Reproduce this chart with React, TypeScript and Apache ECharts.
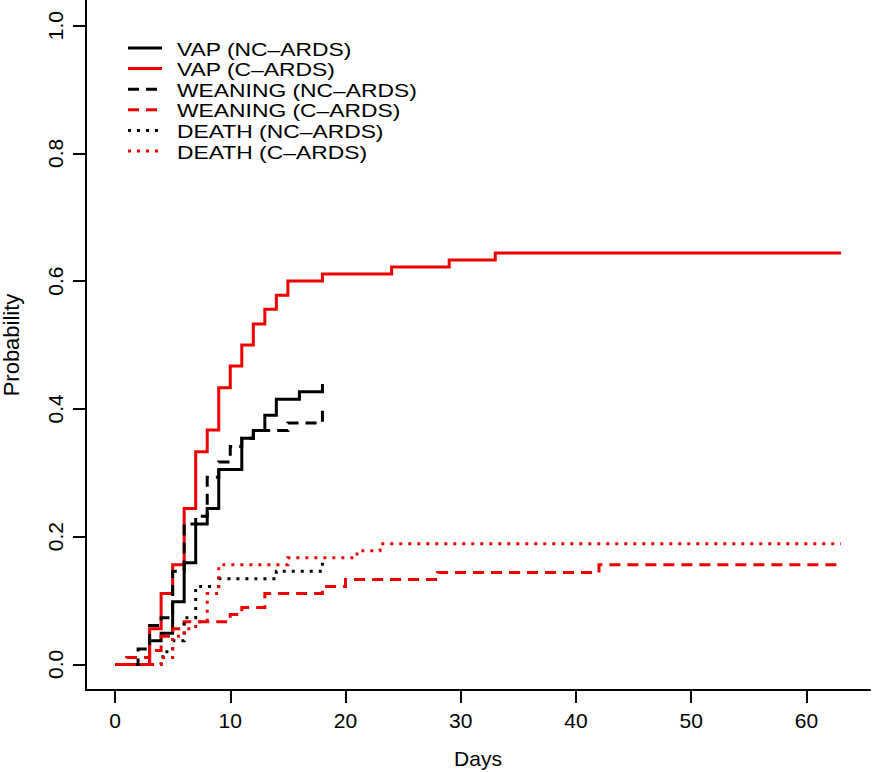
import React, { useEffect, useRef } from "react";
import * as echarts from "echarts";

// ---- data (days, cumulative probability) ----
const vapNcDays = [0, 3, 4, 5, 6, 7, 8, 9, 11, 12, 13, 14, 16, 18, 18];
const vapNcProb = [0, 0.037, 0.049, 0.098, 0.159, 0.22, 0.244, 0.305, 0.354, 0.366, 0.39, 0.415, 0.427, 0.427, 0.439];

const vapCDays = [0, 3, 4, 5, 6, 7, 8, 9, 10, 11, 12, 13, 14, 15, 18, 24, 29, 33, 63];
const vapCProb = [0, 0.056, 0.111, 0.156, 0.244, 0.333, 0.367, 0.433, 0.467, 0.5, 0.533, 0.556, 0.578, 0.6, 0.611, 0.622, 0.633, 0.644, 0.644];

const weanNcDays = [0, 2, 3, 4, 5, 6, 7, 8, 9, 10, 11, 12, 15, 18, 18];
const weanNcProb = [0, 0.024, 0.061, 0.073, 0.146, 0.22, 0.232, 0.293, 0.317, 0.341, 0.354, 0.366, 0.378, 0.378, 0.402];

const weanCDays = [0, 1, 3, 4, 5, 6, 10, 11, 13, 18, 20, 28, 42, 63];
const weanCProb = [0, 0.011, 0.022, 0.044, 0.056, 0.067, 0.078, 0.089, 0.111, 0.122, 0.133, 0.144, 0.156, 0.156];

const deathNcDays = [0, 4, 4.5, 5, 6, 7, 9, 14, 18, 18];
const deathNcProb = [0, 0.012, 0.024, 0.037, 0.073, 0.122, 0.134, 0.146, 0.146, 0.159];

const deathCDays = [0, 4, 5, 6, 7, 8, 9, 15, 21, 23, 63];
const deathCProb = [0, 0.011, 0.044, 0.056, 0.067, 0.111, 0.156, 0.167, 0.178, 0.189, 0.189];

const xTicks = [0, 10, 20, 30, 40, 50, 60];
const yTicks = [0, 0.2, 0.4, 0.6, 0.8, 1.0];

const legendNames = [
  "VAP (NC\u2013ARDS)",
  "VAP (C\u2013ARDS)",
  "WEANING (NC\u2013ARDS)",
  "WEANING (C\u2013ARDS)",
  "DEATH (NC\u2013ARDS)",
  "DEATH (C\u2013ARDS)",
];

const RED = "#ee0000";
const BLACK = "#000000";
const DASH = [11, 7];
const DOT = [3, 6];
const FONT = "'Liberation Sans', Arial, Helvetica, sans-serif";

const zip = (xs: number[], ys: number[]) => xs.map((x, i) => [x, ys[i]]);

const seriesDefs = [
  { name: legendNames[0], days: vapNcDays, prob: vapNcProb, color: BLACK, dash: null as number[] | null },
  { name: legendNames[1], days: vapCDays, prob: vapCProb, color: RED, dash: null },
  { name: legendNames[2], days: weanNcDays, prob: weanNcProb, color: BLACK, dash: DASH },
  { name: legendNames[3], days: weanCDays, prob: weanCProb, color: RED, dash: DASH },
  { name: legendNames[4], days: deathNcDays, prob: deathNcProb, color: BLACK, dash: DOT },
  { name: legendNames[5], days: deathCDays, prob: deathCProb, color: RED, dash: DOT },
];

export default function App() {
  const ref = useRef<HTMLDivElement>(null);
  useEffect(() => {
    if (!ref.current) return;
    const chart = echarts.init(ref.current, null, { renderer: "svg" });
    const legendGraphics: any[] = [];
    seriesDefs.forEach((s, i) => {
      const y = 48 + i * 20.6;
      legendGraphics.push({
        type: "line",
        shape: { x1: 128, y1: y, x2: 162, y2: y },
        style: { stroke: s.color, lineWidth: 3, lineDash: s.dash || undefined, lineCap: "butt" },
      });
      legendGraphics.push({
        type: "text",
        x: 177,
        y: y + 1,
        scaleX: 1.27,
        style: { text: s.name, fill: "#000", font: `18px ${FONT}`, verticalAlign: "middle" },
      });
    });
    chart.setOption({
      animation: false,
      backgroundColor: "#ffffff",
      grid: { left: 86, right: 2, top: 0, bottom: 82, containLabel: false, outerBoundsMode: "none" },
      xAxis: {
        type: "value",
        min: -2.52,
        max: 65.52,
        name: "Days",
        nameLocation: "middle",
        nameGap: 58,
        nameTextStyle: { fontFamily: FONT, fontSize: 21, color: "#000" },
        axisLine: { show: true, onZero: false, lineStyle: { color: "#000", width: 2 } },
        axisTick: { show: true, length: 13, customValues: xTicks, lineStyle: { color: "#000", width: 2 } },
        axisLabel: { customValues: xTicks, fontFamily: FONT, fontSize: 21, color: "#000", margin: 20 },
        splitLine: { show: false },
      },
      yAxis: {
        type: "value",
        min: -0.04,
        max: 1.04,
        name: "Probability",
        nameLocation: "middle",
        nameRotate: 90,
        nameGap: 64,
        nameTextStyle: { fontFamily: FONT, fontSize: 22, color: "#000" },
        axisLine: { show: true, onZero: false, lineStyle: { color: "#000", width: 2 } },
        axisTick: { show: true, length: 13, customValues: yTicks, lineStyle: { color: "#000", width: 2 } },
        axisLabel: {
          customValues: yTicks,
          rotate: 90,
          fontFamily: FONT,
          fontSize: 21,
          color: "#000",
          margin: 20,
          formatter: (v: number) => v.toFixed(1),
        },
        splitLine: { show: false },
      },
      series: seriesDefs.map((s) => ({
        name: s.name,
        type: "line",
        step: "end",
        showSymbol: false,
        symbol: "none",
        data: zip(s.days, s.prob),
        lineStyle: { color: s.color, width: 3, type: s.dash || "solid", cap: "butt", join: "miter" },
        itemStyle: { color: s.color },
      })),
      graphic: legendGraphics,
    });
    return () => chart.dispose();
  }, []);
  return (
    <div
      ref={ref}
      style={{ position: "absolute", left: 0, top: 0, width: 872, height: 772, background: "#fff" }}
    />
  );
}
